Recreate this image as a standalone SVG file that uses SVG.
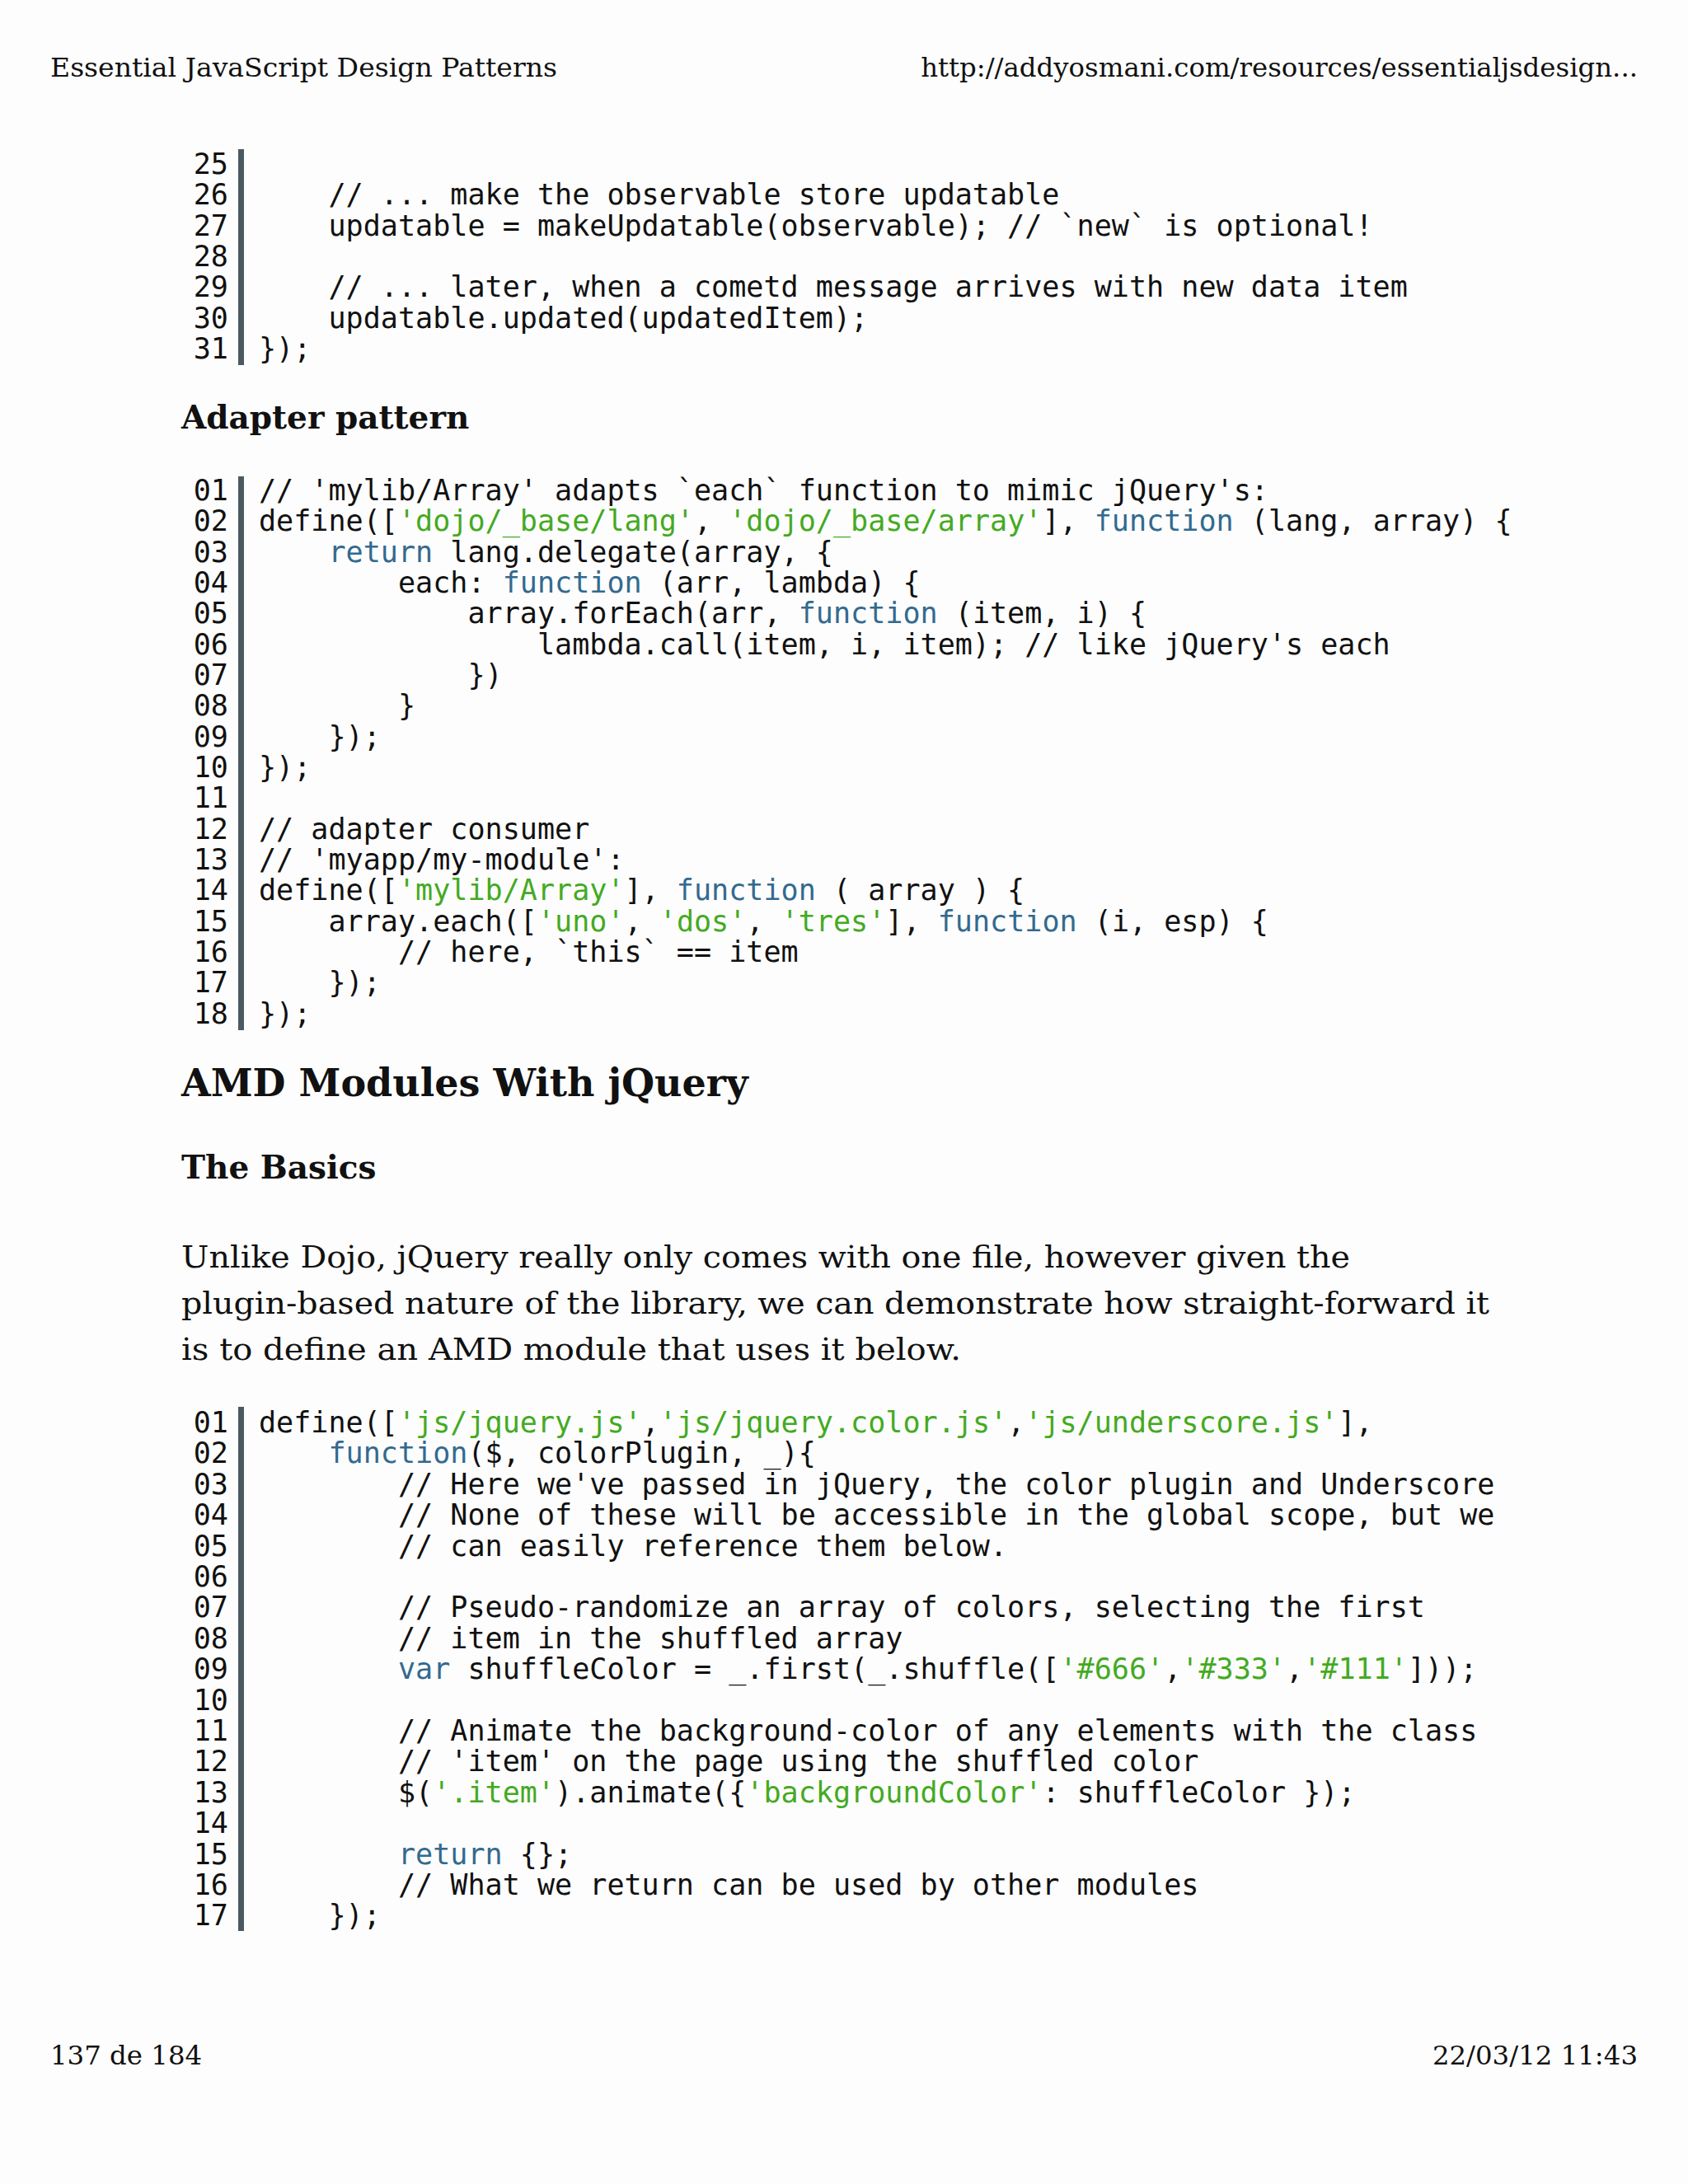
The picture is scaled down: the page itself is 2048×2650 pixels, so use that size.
<svg xmlns="http://www.w3.org/2000/svg" width="2048" height="2650" viewBox="0 0 2048 2650">
<style>
.hd{font-family:"DejaVu Serif","Liberation Serif",serif;font-size:32.4px;fill:#111}
.c{font-family:"DejaVu Sans Mono","Liberation Mono",monospace;font-size:35.1px;fill:#111;white-space:pre}
.n{font-family:"DejaVu Sans Mono","Liberation Mono",monospace;font-size:35.1px;fill:#111}
.s{fill:#44aa22}.k{fill:#336a8f}
.h2{font-family:"DejaVu Serif","Liberation Serif",serif;font-weight:bold;font-size:39px;fill:#111}
.h1{font-family:"DejaVu Serif","Liberation Serif",serif;font-weight:bold;font-size:46px;fill:#111}
.p{font-family:"DejaVu Serif","Liberation Serif",serif;font-size:38px;fill:#111}
.bar{fill:#4b5a62}
</style>
<rect width="2048" height="2650" fill="#fdfdfd"/>
<text class="hd" x="61" y="93" textLength="615" lengthAdjust="spacingAndGlyphs">Essential JavaScript Design Patterns</text>
<text class="hd" x="1987" y="93" text-anchor="end">http://addyosmani.com/resources/essentialjsdesign...</text>

<g id="block1">
<rect class="bar" x="289" y="181" width="7" height="262"/>
<g class="n" text-anchor="end">
<text x="277" y="211">25</text><text x="277" y="248">26</text><text x="277" y="286">27</text><text x="277" y="323">28</text><text x="277" y="360">29</text><text x="277" y="398">30</text><text x="277" y="435">31</text>
</g>
<text class="c" xml:space="preserve" x="314" y="248">    // ... make the observable store updatable</text>
<text class="c" xml:space="preserve" x="314" y="286">    updatable = makeUpdatable(observable); // `new` is optional!</text>
<text class="c" xml:space="preserve" x="314" y="360">    // ... later, when a cometd message arrives with new data item</text>
<text class="c" xml:space="preserve" x="314" y="398">    updatable.updated(updatedItem);</text>
<text class="c" xml:space="preserve" x="314" y="435">});</text>
</g>

<text class="h2" x="220" y="520">Adapter pattern</text>

<g id="block2">
<rect class="bar" x="289" y="578" width="7" height="672"/>
<g class="n" text-anchor="end">
<text x="277" y="607">01</text><text x="277" y="644">02</text><text x="277" y="682">03</text><text x="277" y="719">04</text><text x="277" y="756">05</text><text x="277" y="794">06</text><text x="277" y="831">07</text><text x="277" y="868">08</text><text x="277" y="906">09</text><text x="277" y="943">10</text><text x="277" y="980">11</text><text x="277" y="1018">12</text><text x="277" y="1055">13</text><text x="277" y="1092">14</text><text x="277" y="1130">15</text><text x="277" y="1167">16</text><text x="277" y="1204">17</text><text x="277" y="1242">18</text>
</g>
<text class="c" xml:space="preserve" x="314" y="607">// 'mylib/Array' adapts `each` function to mimic jQuery's:</text>
<text class="c" xml:space="preserve" x="314" y="644">define([<tspan class="s">'dojo/_base/lang'</tspan>, <tspan class="s">'dojo/_base/array'</tspan>], <tspan class="k">function</tspan> (lang, array) {</text>
<text class="c" xml:space="preserve" x="314" y="682">    <tspan class="k">return</tspan> lang.delegate(array, {</text>
<text class="c" xml:space="preserve" x="314" y="719">        each: <tspan class="k">function</tspan> (arr, lambda) {</text>
<text class="c" xml:space="preserve" x="314" y="756">            array.forEach(arr, <tspan class="k">function</tspan> (item, i) {</text>
<text class="c" xml:space="preserve" x="314" y="794">                lambda.call(item, i, item); // like jQuery's each</text>
<text class="c" xml:space="preserve" x="314" y="831">            })</text>
<text class="c" xml:space="preserve" x="314" y="868">        }</text>
<text class="c" xml:space="preserve" x="314" y="906">    });</text>
<text class="c" xml:space="preserve" x="314" y="943">});</text>
<text class="c" xml:space="preserve" x="314" y="1018">// adapter consumer</text>
<text class="c" xml:space="preserve" x="314" y="1055">// 'myapp/my-module':</text>
<text class="c" xml:space="preserve" x="314" y="1092">define([<tspan class="s">'mylib/Array'</tspan>], <tspan class="k">function</tspan> ( array ) {</text>
<text class="c" xml:space="preserve" x="314" y="1130">    array.each([<tspan class="s">'uno'</tspan>, <tspan class="s">'dos'</tspan>, <tspan class="s">'tres'</tspan>], <tspan class="k">function</tspan> (i, esp) {</text>
<text class="c" xml:space="preserve" x="314" y="1167">        // here, `this` == item</text>
<text class="c" xml:space="preserve" x="314" y="1204">    });</text>
<text class="c" xml:space="preserve" x="314" y="1242">});</text>
</g>

<text class="h1" x="220" y="1330">AMD Modules With jQuery</text>
<text class="h2" x="220" y="1430">The Basics</text>
<text class="p" x="220" y="1538" textLength="1418" lengthAdjust="spacingAndGlyphs">Unlike Dojo, jQuery really only comes with one file, however given the</text>
<text class="p" x="220" y="1594" textLength="1587" lengthAdjust="spacingAndGlyphs">plugin-based nature of the library, we can demonstrate how straight-forward it</text>
<text class="p" x="220" y="1650" textLength="946" lengthAdjust="spacingAndGlyphs">is to define an AMD module that uses it below.</text>

<g id="block3">
<rect class="bar" x="289" y="1707" width="7" height="636"/>
<g class="n" text-anchor="end">
<text x="277" y="1738">01</text><text x="277" y="1775">02</text><text x="277" y="1813">03</text><text x="277" y="1850">04</text><text x="277" y="1888">05</text><text x="277" y="1925">06</text><text x="277" y="1962">07</text><text x="277" y="2000">08</text><text x="277" y="2037">09</text><text x="277" y="2075">10</text><text x="277" y="2112">11</text><text x="277" y="2149">12</text><text x="277" y="2187">13</text><text x="277" y="2224">14</text><text x="277" y="2262">15</text><text x="277" y="2299">16</text><text x="277" y="2336">17</text>
</g>
<text class="c" xml:space="preserve" x="314" y="1738">define([<tspan class="s">'js/jquery.js'</tspan>,<tspan class="s">'js/jquery.color.js'</tspan>,<tspan class="s">'js/underscore.js'</tspan>],</text>
<text class="c" xml:space="preserve" x="314" y="1775">    <tspan class="k">function</tspan>($, colorPlugin, _){</text>
<text class="c" xml:space="preserve" x="314" y="1813">        // Here we've passed in jQuery, the color plugin and Underscore</text>
<text class="c" xml:space="preserve" x="314" y="1850">        // None of these will be accessible in the global scope, but we</text>
<text class="c" xml:space="preserve" x="314" y="1888">        // can easily reference them below.</text>
<text class="c" xml:space="preserve" x="314" y="1962">        // Pseudo-randomize an array of colors, selecting the first</text>
<text class="c" xml:space="preserve" x="314" y="2000">        // item in the shuffled array</text>
<text class="c" xml:space="preserve" x="314" y="2037">        <tspan class="k">var</tspan> shuffleColor = _.first(_.shuffle([<tspan class="s">'#666'</tspan>,<tspan class="s">'#333'</tspan>,<tspan class="s">'#111'</tspan>]));</text>
<text class="c" xml:space="preserve" x="314" y="2112">        // Animate the background-color of any elements with the class</text>
<text class="c" xml:space="preserve" x="314" y="2149">        // 'item' on the page using the shuffled color</text>
<text class="c" xml:space="preserve" x="314" y="2187">        $(<tspan class="s">'.item'</tspan>).animate({<tspan class="s">'backgroundColor'</tspan>: shuffleColor });</text>
<text class="c" xml:space="preserve" x="314" y="2262">        <tspan class="k">return</tspan> {};</text>
<text class="c" xml:space="preserve" x="314" y="2299">        // What we return can be used by other modules</text>
<text class="c" xml:space="preserve" x="314" y="2336">    });</text>
</g>

<text class="hd" x="61" y="2505">137 de 184</text>
<text class="hd" x="1987" y="2505" text-anchor="end">22/03/12 11:43</text>
</svg>
